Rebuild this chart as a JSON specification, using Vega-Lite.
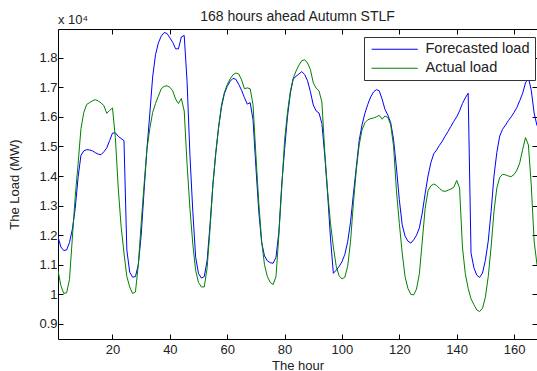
{
  "$schema": "https://vega.github.io/schema/vega-lite/v6.json",
  "width": 479,
  "height": 310,
  "autosize": {"type": "none"},
  "padding": {"left": 58, "top": 29, "right": 0, "bottom": 32},
  "background": "white",
  "title": {"text": "168 hours ahead Autumn STLF", "fontSize": 14, "font": "Liberation Sans", "fontWeight": "normal", "color": "#222", "offset": -10},
  "config": {
    "view": {"stroke": null},
    "font": "Liberation Sans",
    "axis": {"domainColor": "#000", "tickColor": "#000", "tickSize": -5, "labelFont": "Liberation Sans", "labelFontSize": 13, "labelColor": "#222", "titleFont": "Liberation Sans", "titleFontSize": 13, "titleFontWeight": "normal", "titleColor": "#222", "grid": false, "labelPadding": 4}
  },
  "datasets": {
    "load": [
      {"hour":1,"Forecasted load":11950,"Actual load":10800},
      {"hour":2,"Forecasted load":11600,"Actual load":10300},
      {"hour":3,"Forecasted load":11480,"Actual load":10030},
      {"hour":4,"Forecasted load":11500,"Actual load":10050},
      {"hour":5,"Forecasted load":11750,"Actual load":10500},
      {"hour":6,"Forecasted load":12200,"Actual load":11900},
      {"hour":7,"Forecasted load":12900,"Actual load":13300},
      {"hour":8,"Forecasted load":13950,"Actual load":14400},
      {"hour":9,"Forecasted load":14700,"Actual load":15600},
      {"hour":10,"Forecasted load":14850,"Actual load":16150},
      {"hour":11,"Forecasted load":14890,"Actual load":16420},
      {"hour":12,"Forecasted load":14880,"Actual load":16480},
      {"hour":13,"Forecasted load":14850,"Actual load":16540},
      {"hour":14,"Forecasted load":14790,"Actual load":16580},
      {"hour":15,"Forecasted load":14740,"Actual load":16540},
      {"hour":16,"Forecasted load":14720,"Actual load":16470},
      {"hour":17,"Forecasted load":14820,"Actual load":16380},
      {"hour":18,"Forecasted load":14950,"Actual load":16120},
      {"hour":19,"Forecasted load":15200,"Actual load":16220},
      {"hour":20,"Forecasted load":15450,"Actual load":16300},
      {"hour":21,"Forecasted load":15460,"Actual load":15300},
      {"hour":22,"Forecasted load":15340,"Actual load":13600},
      {"hour":23,"Forecasted load":15270,"Actual load":12300},
      {"hour":24,"Forecasted load":15200,"Actual load":11400},
      {"hour":25,"Forecasted load":11500,"Actual load":10600},
      {"hour":26,"Forecasted load":10750,"Actual load":10250},
      {"hour":27,"Forecasted load":10580,"Actual load":10030},
      {"hour":28,"Forecasted load":10600,"Actual load":10080},
      {"hour":29,"Forecasted load":11000,"Actual load":11000},
      {"hour":30,"Forecasted load":12000,"Actual load":12400},
      {"hour":31,"Forecasted load":13480,"Actual load":13700},
      {"hour":32,"Forecasted load":14900,"Actual load":14900},
      {"hour":33,"Forecasted load":16100,"Actual load":15600},
      {"hour":34,"Forecasted load":17350,"Actual load":16150},
      {"hour":35,"Forecasted load":18100,"Actual load":16450},
      {"hour":36,"Forecasted load":18500,"Actual load":16700},
      {"hour":37,"Forecasted load":18730,"Actual load":16950},
      {"hour":38,"Forecasted load":18850,"Actual load":17030},
      {"hour":39,"Forecasted load":18820,"Actual load":17050},
      {"hour":40,"Forecasted load":18670,"Actual load":17000},
      {"hour":41,"Forecasted load":18520,"Actual load":16880},
      {"hour":42,"Forecasted load":18300,"Actual load":16600},
      {"hour":43,"Forecasted load":18300,"Actual load":16450},
      {"hour":44,"Forecasted load":18700,"Actual load":16620},
      {"hour":45,"Forecasted load":18750,"Actual load":16200},
      {"hour":46,"Forecasted load":17200,"Actual load":14400},
      {"hour":47,"Forecasted load":14700,"Actual load":12900},
      {"hour":48,"Forecasted load":12800,"Actual load":11700},
      {"hour":49,"Forecasted load":11250,"Actual load":10800},
      {"hour":50,"Forecasted load":10700,"Actual load":10400},
      {"hour":51,"Forecasted load":10550,"Actual load":10250},
      {"hour":52,"Forecasted load":10600,"Actual load":10250},
      {"hour":53,"Forecasted load":11150,"Actual load":10900},
      {"hour":54,"Forecasted load":12350,"Actual load":12200},
      {"hour":55,"Forecasted load":13700,"Actual load":13700},
      {"hour":56,"Forecasted load":14750,"Actual load":14800},
      {"hour":57,"Forecasted load":15650,"Actual load":15650},
      {"hour":58,"Forecasted load":16330,"Actual load":16400},
      {"hour":59,"Forecasted load":16780,"Actual load":16820},
      {"hour":60,"Forecasted load":17030,"Actual load":17090},
      {"hour":61,"Forecasted load":17200,"Actual load":17280},
      {"hour":62,"Forecasted load":17300,"Actual load":17420},
      {"hour":63,"Forecasted load":17270,"Actual load":17480},
      {"hour":64,"Forecasted load":17100,"Actual load":17450},
      {"hour":65,"Forecasted load":16900,"Actual load":17250},
      {"hour":66,"Forecasted load":16650,"Actual load":16950},
      {"hour":67,"Forecasted load":16430,"Actual load":16980},
      {"hour":68,"Forecasted load":16480,"Actual load":16950},
      {"hour":69,"Forecasted load":15900,"Actual load":16410},
      {"hour":70,"Forecasted load":14300,"Actual load":14700},
      {"hour":71,"Forecasted load":12800,"Actual load":13100},
      {"hour":72,"Forecasted load":11750,"Actual load":11800},
      {"hour":73,"Forecasted load":11300,"Actual load":11000},
      {"hour":74,"Forecasted load":11130,"Actual load":10600},
      {"hour":75,"Forecasted load":11070,"Actual load":10400},
      {"hour":76,"Forecasted load":11050,"Actual load":10330},
      {"hour":77,"Forecasted load":11250,"Actual load":10600},
      {"hour":78,"Forecasted load":12100,"Actual load":12000},
      {"hour":79,"Forecasted load":13700,"Actual load":13600},
      {"hour":80,"Forecasted load":14900,"Actual load":15200},
      {"hour":81,"Forecasted load":16000,"Actual load":16150},
      {"hour":82,"Forecasted load":16800,"Actual load":16850},
      {"hour":83,"Forecasted load":17280,"Actual load":17300},
      {"hour":84,"Forecasted load":17370,"Actual load":17550},
      {"hour":85,"Forecasted load":17450,"Actual load":17750},
      {"hour":86,"Forecasted load":17530,"Actual load":17900},
      {"hour":87,"Forecasted load":17430,"Actual load":17930},
      {"hour":88,"Forecasted load":17220,"Actual load":17820},
      {"hour":89,"Forecasted load":16850,"Actual load":17600},
      {"hour":90,"Forecasted load":16400,"Actual load":17150},
      {"hour":91,"Forecasted load":16200,"Actual load":16970},
      {"hour":92,"Forecasted load":16130,"Actual load":16880},
      {"hour":93,"Forecasted load":15780,"Actual load":16500},
      {"hour":94,"Forecasted load":14700,"Actual load":14830},
      {"hour":95,"Forecasted load":13400,"Actual load":13480},
      {"hour":96,"Forecasted load":11900,"Actual load":12400},
      {"hour":97,"Forecasted load":10710,"Actual load":11600},
      {"hour":98,"Forecasted load":10820,"Actual load":10950},
      {"hour":99,"Forecasted load":10940,"Actual load":10630},
      {"hour":100,"Forecasted load":11100,"Actual load":10520},
      {"hour":101,"Forecasted load":11350,"Actual load":10580},
      {"hour":102,"Forecasted load":11780,"Actual load":10950},
      {"hour":103,"Forecasted load":12450,"Actual load":11800},
      {"hour":104,"Forecasted load":13400,"Actual load":13100},
      {"hour":105,"Forecasted load":14300,"Actual load":14200},
      {"hour":106,"Forecasted load":15200,"Actual load":15050},
      {"hour":107,"Forecasted load":15730,"Actual load":15560},
      {"hour":108,"Forecasted load":16120,"Actual load":15800},
      {"hour":109,"Forecasted load":16420,"Actual load":15900},
      {"hour":110,"Forecasted load":16670,"Actual load":15940},
      {"hour":111,"Forecasted load":16840,"Actual load":15960},
      {"hour":112,"Forecasted load":16920,"Actual load":16000},
      {"hour":113,"Forecasted load":16880,"Actual load":16050},
      {"hour":114,"Forecasted load":16600,"Actual load":15920},
      {"hour":115,"Forecasted load":16250,"Actual load":16030},
      {"hour":116,"Forecasted load":16060,"Actual load":15980},
      {"hour":117,"Forecasted load":15800,"Actual load":15730},
      {"hour":118,"Forecasted load":15230,"Actual load":15000},
      {"hour":119,"Forecasted load":14270,"Actual load":13500},
      {"hour":120,"Forecasted load":13200,"Actual load":12400},
      {"hour":121,"Forecasted load":12350,"Actual load":11400},
      {"hour":122,"Forecasted load":11970,"Actual load":10600},
      {"hour":123,"Forecasted load":11800,"Actual load":10200},
      {"hour":124,"Forecasted load":11730,"Actual load":10000},
      {"hour":125,"Forecasted load":11840,"Actual load":9980},
      {"hour":126,"Forecasted load":12000,"Actual load":10180},
      {"hour":127,"Forecasted load":12250,"Actual load":10700},
      {"hour":128,"Forecasted load":12750,"Actual load":11800},
      {"hour":129,"Forecasted load":13400,"Actual load":12900},
      {"hour":130,"Forecasted load":14000,"Actual load":13500},
      {"hour":131,"Forecasted load":14450,"Actual load":13670},
      {"hour":132,"Forecasted load":14750,"Actual load":13730},
      {"hour":133,"Forecasted load":14880,"Actual load":13680},
      {"hour":134,"Forecasted load":15040,"Actual load":13580},
      {"hour":135,"Forecasted load":15180,"Actual load":13500},
      {"hour":136,"Forecasted load":15350,"Actual load":13480},
      {"hour":137,"Forecasted load":15510,"Actual load":13520},
      {"hour":138,"Forecasted load":15680,"Actual load":13560},
      {"hour":139,"Forecasted load":15850,"Actual load":13620},
      {"hour":140,"Forecasted load":16000,"Actual load":13850},
      {"hour":141,"Forecasted load":16200,"Actual load":13600},
      {"hour":142,"Forecasted load":16450,"Actual load":11600},
      {"hour":143,"Forecasted load":16640,"Actual load":10700},
      {"hour":144,"Forecasted load":16800,"Actual load":10200},
      {"hour":145,"Forecasted load":11400,"Actual load":9850},
      {"hour":146,"Forecasted load":10900,"Actual load":9650},
      {"hour":147,"Forecasted load":10650,"Actual load":9470},
      {"hour":148,"Forecasted load":10570,"Actual load":9420},
      {"hour":149,"Forecasted load":10720,"Actual load":9530},
      {"hour":150,"Forecasted load":11150,"Actual load":9900},
      {"hour":151,"Forecasted load":11800,"Actual load":10600},
      {"hour":152,"Forecasted load":12800,"Actual load":11600},
      {"hour":153,"Forecasted load":14000,"Actual load":12800},
      {"hour":154,"Forecasted load":14800,"Actual load":13600},
      {"hour":155,"Forecasted load":15350,"Actual load":13950},
      {"hour":156,"Forecasted load":15580,"Actual load":14060},
      {"hour":157,"Forecasted load":15720,"Actual load":14040},
      {"hour":158,"Forecasted load":15870,"Actual load":14000},
      {"hour":159,"Forecasted load":16000,"Actual load":13980},
      {"hour":160,"Forecasted load":16150,"Actual load":14050},
      {"hour":161,"Forecasted load":16320,"Actual load":14200},
      {"hour":162,"Forecasted load":16550,"Actual load":14450},
      {"hour":163,"Forecasted load":16800,"Actual load":14900},
      {"hour":164,"Forecasted load":17150,"Actual load":15300},
      {"hour":165,"Forecasted load":17330,"Actual load":15050},
      {"hour":166,"Forecasted load":16900,"Actual load":13700},
      {"hour":167,"Forecasted load":16130,"Actual load":11800},
      {"hour":168,"Forecasted load":15700,"Actual load":11000}
    ]
  },
  "layer": [
    {
      "data": {"name": "load"},
      "transform": [{"fold": ["Forecasted load", "Actual load"], "as": ["series", "load"]}],
      "mark": {"type": "line", "strokeWidth": 1, "clip": true},
      "encoding": {
        "x": {"field": "hour", "type": "quantitative", "scale": {"domain": [1, 168], "nice": false, "zero": false},
              "axis": {"orient": "bottom", "values": [20, 40, 60, 80, 100, 120, 140, 160], "title": "The hour", "titlePadding": 3, "labelPadding": 9}},
        "y": {"field": "load", "type": "quantitative", "scale": {"domain": [8490, 18970], "nice": false, "zero": false},
              "axis": {"orient": "left", "values": [9000, 10000, 11000, 12000, 13000, 14000, 15000, 16000, 17000, 18000], "labelExpr": "datum.value / 10000", "title": "The Load (MW)", "titlePadding": 17, "labelPadding": 6}},
        "color": {"field": "series", "type": "nominal", "sort": ["Forecasted load", "Actual load"],
                  "scale": {"domain": ["Forecasted load", "Actual load"], "range": ["#0000ff", "#008000"]},
                  "legend": {"orient": "none", "legendX": 306, "legendY": 8, "title": null, "symbolType": "M-1,0H9", "symbolSize": 85, "symbolStrokeWidth": 1, "symbolFillColor": "transparent", "labelFontSize": 14.5, "labelFont": "Liberation Sans", "labelColor": "#222", "strokeColor": "#333", "fillColor": "white", "padding": 5, "rowPadding": 4, "labelOffset": 42}}
      }
    },
    {
      "data": {"values": [{"t": "x 10⁴"}]},
      "mark": {"type": "text", "align": "left", "baseline": "middle", "dy": -9, "fontSize": 13, "font": "Liberation Sans", "color": "#222"},
      "encoding": {
        "x": {"datum": 1, "type": "quantitative", "axis": null},
        "y": {"datum": 18970, "type": "quantitative", "axis": null},
        "text": {"field": "t"}
      }
    },
    {
      "data": {"values": [{"a": 1}]},
      "mark": {"type": "rule", "opacity": 0},
      "encoding": {
        "x": {"datum": 20, "type": "quantitative", "axis": {"orient": "top", "values": [20, 40, 60, 80, 100, 120, 140, 160], "labels": false, "title": null}},
        "y": {"datum": 9000, "type": "quantitative", "axis": {"orient": "right", "values": [9000, 10000, 11000, 12000, 13000, 14000, 15000, 16000, 17000, 18000], "labels": false, "title": null}}
      }
    }
  ],
  "resolve": {"axis": {"x": "independent", "y": "independent"}}
}
